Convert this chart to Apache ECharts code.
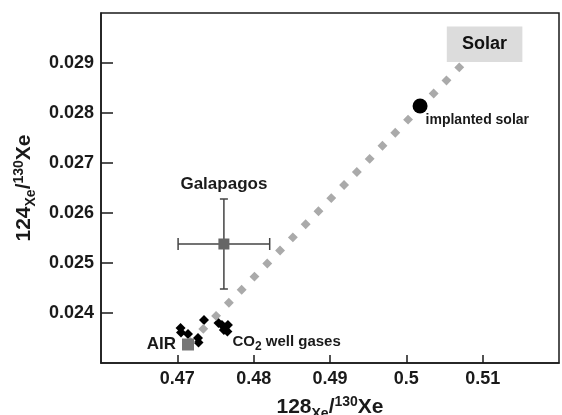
<!DOCTYPE html>
<html>
<head>
<meta charset="utf-8">
<script src="https://cdn.jsdelivr.net/npm/echarts@6/dist/echarts.min.js"></script>
<style>
  html, body { margin: 0; padding: 0; background: #fff; }
  #chart { width: 562px; height: 415px; }
</style>
</head>
<body>
<div id="chart"></div>
<script>
// 数据
var wellX = [0.47042, 0.47048, 0.4714, 0.47271, 0.47277, 0.47349, 0.47539, 0.47584, 0.47624, 0.47663, 0.47656, 0.4761];
var wellY = [0.023701, 0.023612, 0.023582, 0.023502, 0.023412, 0.023861, 0.023801, 0.023761, 0.023711, 0.023761, 0.023631, 0.02366];
var air = [0.4714, 0.02337];
var galapagos = [0.4761, 0.02538];
var galapagosErr = [0.0060, 0.0009];
var implantedSolar = [0.5018, 0.02814];
var mixLine = [[0.4714, 0.02337], [0.5073, 0.02897]];
var solarBox = [[0.5053, 0.02973], [0.5152, 0.02902]];
var xTicks = [0.46, 0.52, 0.01];
var yTicks = [0.023, 0.030, 0.001];

var font = "'Liberation Sans', Arial, sans-serif";
var ink = "#1a1a1a";

var chart = echarts.init(document.getElementById("chart"));

var wellData = [];
for (var i = 0; i < wellX.length; i++) {
  wellData.push({ value: [wellX[i], wellY[i]] });
}
// 标签挂在其中一个点上
wellData[10].label = {
  show: true,
  position: "right",
  distance: 0,
  offset: [0, 10],
  formatter: "{a|CO}{b|2}{a| well gases}",
  rich: {
    a: { fontSize: 15, fontWeight: "bold", fontFamily: font, color: ink },
    b: { fontSize: 12, fontWeight: "bold", fontFamily: font, color: ink, padding: [10, 0, 0, 0] },
  },
};

var nameRich = {
  m: { fontSize: 21, fontWeight: "bold", fontFamily: font, color: ink },
  sub: { fontSize: 14, fontWeight: "bold", fontFamily: font, color: ink, padding: [14, 0, 0, 0] },
  sup: { fontSize: 14, fontWeight: "bold", fontFamily: font, color: ink, padding: [0, 0, 10, 0] },
};

function lineStyleErr() {
  return { stroke: "#444", lineWidth: 1.5 };
}

function renderErr(params, api) {
  var x = api.value(0), y = api.value(1), ex = api.value(2), ey = api.value(3);
  var l = api.coord([x - ex, y]);
  var r = api.coord([x + ex, y]);
  var t = api.coord([x, y + ey]);
  var b = api.coord([x, y - ey]);
  var hc = 6, vc = 4;
  return {
    type: "group",
    children: [
      { type: "line", shape: { x1: l[0], y1: l[1], x2: r[0], y2: r[1] }, style: lineStyleErr() },
      { type: "line", shape: { x1: t[0], y1: t[1], x2: b[0], y2: b[1] }, style: lineStyleErr() },
      { type: "line", shape: { x1: l[0], y1: l[1] - hc, x2: l[0], y2: l[1] + hc }, style: lineStyleErr() },
      { type: "line", shape: { x1: r[0], y1: r[1] - hc, x2: r[0], y2: r[1] + hc }, style: lineStyleErr() },
      { type: "line", shape: { x1: t[0] - vc, y1: t[1], x2: t[0] + vc, y2: t[1] }, style: lineStyleErr() },
      { type: "line", shape: { x1: b[0] - vc, y1: b[1], x2: b[0] + vc, y2: b[1] }, style: lineStyleErr() },
    ],
  };
}

function pointLabel(text, pos, dist, size) {
  return {
    show: true,
    position: pos,
    distance: dist,
    formatter: text,
    fontSize: size,
    fontWeight: "bold",
    fontFamily: font,
    color: ink,
  };
}

var option = {
  animation: false,
  backgroundColor: "#fff",
  grid: {
    left: 101,
    right: 3,
    top: 13,
    bottom: 52,
    outerBoundsMode: "none",
    containLabel: false,
    show: true,
    borderColor: ink,
    borderWidth: 1.5,
  },
  xAxis: {
    type: "value",
    min: xTicks[0],
    max: xTicks[1],
    interval: xTicks[2],
    name: "{m|128}{sub|Xe}{m|/}{sup|130}{m|Xe}",
    nameLocation: "middle",
    nameGap: 30,
    nameTextStyle: { rich: nameRich },
    splitLine: { show: false },
    axisLine: { lineStyle: { color: ink, width: 1.5 } },
    axisTick: { inside: true, length: 8, lineStyle: { color: ink, width: 1.5 } },
    axisLabel: {
      showMinLabel: false,
      showMaxLabel: false,
      margin: 7,
      fontSize: 18,
      fontWeight: "bold",
      fontFamily: font,
      color: ink,
    },
  },
  yAxis: {
    type: "value",
    min: yTicks[0],
    max: yTicks[1],
    interval: yTicks[2],
    name: "{m|124}{sub|Xe}{m|/}{sup|130}{m|Xe}",
    nameLocation: "middle",
    nameGap: 62,
    nameTextStyle: { rich: nameRich },
    splitLine: { show: false },
    axisLine: { lineStyle: { color: ink, width: 1.5 } },
    axisTick: { inside: true, length: 12, lineStyle: { color: ink, width: 1.5 } },
    axisLabel: {
      showMinLabel: false,
      showMaxLabel: false,
      margin: 7,
      fontSize: 18,
      fontWeight: "bold",
      fontFamily: font,
      color: ink,
    },
  },
  series: [
    {
      // 混合线
      type: "line",
      data: mixLine,
      symbol: "none",
      silent: true,
      lineStyle: { color: "#aaa", width: 7, type: [7, 11.3], cap: "butt" },
      markArea: {
        silent: true,
        itemStyle: { color: "#dcdcdc", opacity: 1 },
        label: {
          show: true,
          position: "inside",
          fontSize: 18,
          fontWeight: "bold",
          fontFamily: font,
          color: "#111",
        },
        data: [[{ name: "Solar", coord: solarBox[0] }, { coord: solarBox[1] }]],
      },
    },
    {
      name: "CO2 well gases",
      type: "scatter",
      symbol: "diamond",
      symbolSize: 10,
      itemStyle: { color: "#000", opacity: 1 },
      data: wellData,
    },
    {
      type: "custom",
      renderItem: renderErr,
      data: [[galapagos[0], galapagos[1], galapagosErr[0], galapagosErr[1]]],
      z: 3,
    },
    {
      name: "Galapagos",
      type: "scatter",
      symbol: "rect",
      symbolSize: 11,
      itemStyle: { color: "#666", opacity: 1 },
      z: 4,
      label: pointLabel("Galapagos", "top", 46, 17),
      data: [galapagos],
    },
    {
      name: "AIR",
      type: "scatter",
      symbol: "rect",
      symbolSize: 12,
      itemStyle: { color: "#777", opacity: 1 },
      z: 4,
      label: pointLabel("AIR", "left", 6, 17),
      data: [air],
    },
    {
      name: "implanted solar",
      type: "scatter",
      symbol: "circle",
      symbolSize: 15,
      itemStyle: { color: "#000", opacity: 1 },
      z: 4,
      label: Object.assign(pointLabel("implanted solar", "right", -2, 14), { offset: [0, 14] }),
      data: [implantedSolar],
    },
  ],
};
chart.setOption(option);
</script>
</body>
</html>
